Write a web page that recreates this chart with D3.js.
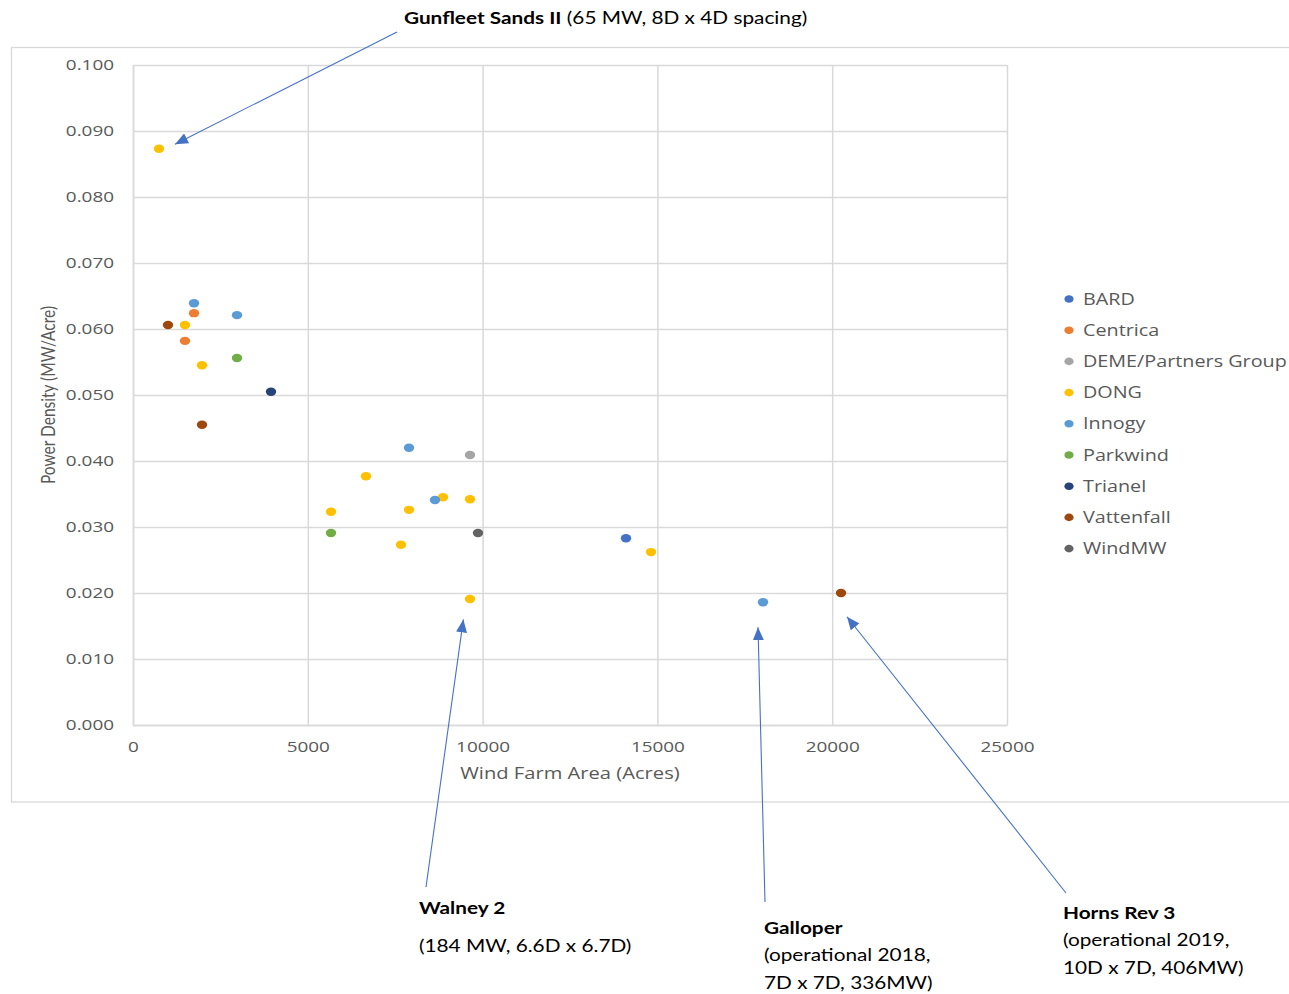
<!DOCTYPE html>
<html>
<head>
<meta charset="utf-8">
<script src="https://cdn.jsdelivr.net/npm/d3@7"></script>
<style>
  html, body { margin: 0; padding: 0; background: #ffffff; }
  svg { display: block; }
</style>
</head>
<body>
<svg id="chart" width="1289" height="994"></svg>
<script>
// ---- data -------------------------------------------------------------
const companies = ["BARD", "Centrica", "DEME/Partners Group", "DONG", "Innogy",
                   "Parkwind", "Trianel", "Vattenfall", "WindMW"];
const companyColors = ["#4472C4", "#ED7D31", "#A5A5A5", "#FFC000", "#5B9BD5",
                       "#70AD47", "#264478", "#9E480E", "#636363"];

// one entry per wind farm: owner, area (acres), power density (MW/acre)
const farmOwner   = ["DONG", "Innogy", "Centrica", "Innogy", "Vattenfall", "DONG",
                     "Centrica", "Parkwind", "DONG", "Trianel", "Vattenfall", "Innogy",
                     "DEME/Partners Group", "DONG", "DONG", "Innogy", "DONG", "DONG",
                     "DONG", "Parkwind", "WindMW", "DONG", "DONG", "BARD", "DONG",
                     "Innogy", "Vattenfall"];
const farmArea    = [744, 1745, 1745, 2975, 1001, 1487,
                     1487, 2975, 1974, 3947, 1974, 7895,
                     9640, 6665, 8867, 8638, 9640, 5664,
                     7895, 5664, 9868, 7666, 9640, 14102, 14817,
                     18021, 20252];
const farmDensity = [0.0873, 0.0639, 0.0624, 0.0621, 0.0606, 0.0606,
                     0.0582, 0.0556, 0.0545, 0.0505, 0.0455, 0.0420,
                     0.0409, 0.0377, 0.0345, 0.0341, 0.0342, 0.0323,
                     0.0326, 0.0291, 0.0291, 0.0273, 0.0191, 0.0283, 0.0262,
                     0.0186, 0.0200];

const xTicks = [0, 5000, 10000, 15000, 20000, 25000];
const yTicks = [0, 0.01, 0.02, 0.03, 0.04, 0.05, 0.06, 0.07, 0.08, 0.09, 0.10];

// callouts: arrow tip in data units, tail and text in page units
const calloutNames = ["Gunfleet Sands II", "Walney 2", "Galloper", "Horns Rev 3"];
const calloutTipArea    = [1201, 9450, 17878, 20423];
const calloutTipDensity = [0.0880, 0.0160, 0.0148, 0.0164];

// ---- layout -----------------------------------------------------------
const SX = 1.26;              // horizontal text stretch of the rendered chart
const plot = { left: 133, right: 1007, top: 65, bottom: 725 };
const gridColor = "#d9d9d9";
const labelColor = "#595959";
const chartFont = "'Open Sans', sans-serif";
const noteFont = "Lato, sans-serif";

const svg = d3.select("#chart");

// widen text glyphs around their anchor x
function stretch(sel) {
  sel.each(function () {
    const t = d3.select(this);
    const x = +t.attr("x") || 0;
    t.attr("transform", `translate(${x * (1 - SX)},0) scale(${SX},1)`);
  });
}

// outer chart frame
svg.append("rect")
  .attr("x", 11.5).attr("y", 47.5)
  .attr("width", 1300).attr("height", 754.5)
  .attr("fill", "none").attr("stroke", gridColor).attr("stroke-width", 1.3);

const x = d3.scaleLinear().domain([0, 25000]).range([plot.left, plot.right]);
const y = d3.scaleLinear().domain([0, 0.10]).range([plot.bottom, plot.top]);
const color = d3.scaleOrdinal().domain(companies).range(companyColors);

// x axis with vertical gridlines
const gx = svg.append("g")
  .attr("transform", `translate(0,${plot.bottom})`)
  .call(d3.axisBottom(x).tickValues(xTicks).tickFormat(d3.format("d"))
        .tickSize(-(plot.bottom - plot.top)).tickSizeOuter(0).tickPadding(16));
gx.select(".domain").attr("stroke", gridColor).attr("stroke-width", 1.5);
gx.selectAll(".tick line").attr("stroke", gridColor).attr("stroke-width", 1.5);
gx.selectAll(".tick text")
  .attr("font-family", chartFont).attr("font-size", 15)
  .attr("fill", labelColor).call(stretch);
gx.attr("font-family", null).attr("font-size", null);

// y axis with horizontal gridlines
const gy = svg.append("g")
  .attr("transform", `translate(${plot.left},0)`)
  .call(d3.axisLeft(y).tickValues(yTicks).tickFormat(d3.format(".3f"))
        .tickSize(-(plot.right - plot.left)).tickSizeOuter(0).tickPadding(19));
gy.select(".domain").attr("stroke", gridColor).attr("stroke-width", 1.5);
gy.selectAll(".tick line").attr("stroke", gridColor).attr("stroke-width", 1.5);
gy.selectAll(".tick text")
  .attr("font-family", chartFont).attr("font-size", 15)
  .attr("fill", labelColor).call(stretch);
gy.attr("font-family", null).attr("font-size", null);

// axis titles
svg.append("text")
  .attr("x", (plot.left + plot.right) / 2).attr("y", 779)
  .attr("text-anchor", "middle")
  .attr("font-family", chartFont).attr("font-size", 16)
  .attr("fill", labelColor)
  .text("Wind Farm Area (Acres)")
  .call(stretch);

svg.append("text")
  .attr("transform", `translate(55,${(plot.top + plot.bottom) / 2}) scale(${SX},1) rotate(-90)`)
  .attr("text-anchor", "middle")
  .attr("font-family", noteFont).attr("font-size", 15.5)
  .attr("fill", labelColor)
  .text("Power Density (MW/Acre)");

// scatter points, drawn series by series
const farms = farmOwner.map((o, i) => ({ owner: o, area: farmArea[i], density: farmDensity[i] }));
const dots = svg.append("g");
companies.forEach(c => {
  dots.selectAll(null)
    .data(farms.filter(f => f.owner === c))
    .join("ellipse")
    .attr("cx", d => x(d.area))
    .attr("cy", d => y(d.density))
    .attr("rx", 5.2).attr("ry", 4.2)
    .attr("fill", color(c));
});

// legend
const legend = svg.append("g");
companies.forEach((c, i) => {
  const ly = 299 + i * 31.2;
  legend.append("ellipse")
    .attr("cx", 1069).attr("cy", ly).attr("rx", 4.6).attr("ry", 3.8)
    .attr("fill", color(c));
  legend.append("text")
    .attr("x", 1083).attr("y", ly)
    .attr("dy", "0.36em")
    .attr("font-family", chartFont).attr("font-size", 15.7)
    .attr("fill", labelColor)
    .text(c)
    .call(stretch);
});

// callout arrows
const defs = svg.append("defs");
defs.append("marker")
  .attr("id", "arrowhead")
  .attr("viewBox", "0 0 13 11")
  .attr("refX", 13).attr("refY", 5.5)
  .attr("markerWidth", 13).attr("markerHeight", 11)
  .attr("markerUnits", "userSpaceOnUse")
  .attr("orient", "auto")
  .append("path")
  .attr("d", "M0,0 L13,5.5 L0,11 Z")
  .attr("fill", "#4472C4");

const calloutTails = [[397, 32], [426, 887], [765, 902], [1066, 893]];
const arrows = svg.append("g");
calloutNames.forEach((n, i) => {
  arrows.append("line")
    .attr("x1", calloutTails[i][0]).attr("y1", calloutTails[i][1])
    .attr("x2", x(calloutTipArea[i])).attr("y2", y(calloutTipDensity[i]))
    .attr("stroke", "#4472C4").attr("stroke-width", 1.1)
    .attr("marker-end", "url(#arrowhead)");
});

// callout text
const notes = svg.append("g")
  .attr("font-family", noteFont).attr("font-size", 16.5).attr("fill", "#000");

const gunfleet = notes.append("text").attr("x", 404).attr("y", 24);
gunfleet.append("tspan").attr("font-weight", "bold").text(calloutNames[0]);
gunfleet.append("tspan").text(" (65 MW, 8D x 4D spacing)");
gunfleet.call(stretch);

function noteBlock(x0, rows) {
  rows.forEach(r => {
    notes.append("text")
      .attr("x", x0).attr("y", r.y)
      .attr("font-weight", r.bold ? "bold" : null)
      .text(r.text)
      .call(stretch);
  });
}
noteBlock(419, [
  { y: 914, text: calloutNames[1], bold: true },
  { y: 952, text: "(184 MW, 6.6D x 6.7D)" }
]);
noteBlock(764, [
  { y: 934, text: calloutNames[2], bold: true },
  { y: 961, text: "(operational 2018," },
  { y: 989, text: "7D x 7D, 336MW)" }
]);
noteBlock(1063, [
  { y: 919, text: calloutNames[3], bold: true },
  { y: 946, text: "(operational 2019," },
  { y: 974, text: "10D x 7D, 406MW)" }
]);
</script>
</body>
</html>
